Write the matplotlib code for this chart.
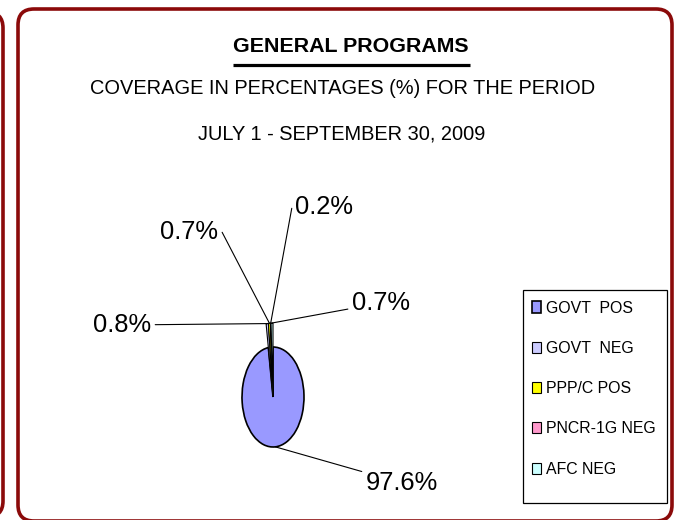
import matplotlib
matplotlib.use("Agg")
import matplotlib.pyplot as plt
from matplotlib.patches import FancyBboxPatch, Rectangle
from matplotlib import font_manager as fm
import numpy as np

# ---- data ----
categories = ["GOVT  POS", "GOVT  NEG", "PPP/C POS", "PNCR-1G NEG", "AFC NEG"]
values = [97.6, 0.8, 0.7, 0.2, 0.7]
colors = ["#9999FF", "#CCCCFF", "#FFFF00", "#FF99CC", "#CCFFFF"]
title = "GENERAL PROGRAMS"
subtitle1 = "COVERAGE IN PERCENTAGES (%) FOR THE PERIOD"
subtitle2 = "JULY 1 - SEPTEMBER 30, 2009"

names = {f.name for f in fm.fontManager.ttflist}
FONT = "Liberation Sans Narrow" if "Liberation Sans Narrow" in names else "Liberation Sans"

W, H = 685, 520
fig = plt.figure(figsize=(W / 100, H / 100), dpi=100)
fig.patch.set_facecolor("white")
renderer = fig.canvas.get_renderer()


def fit_size(s, target_w, weight="normal"):
    t = fig.text(0, 0, s, fontsize=10, family=FONT, weight=weight)
    w = t.get_window_extent(renderer).width
    t.remove()
    return 10 * target_w / w


# background / frame axes in pixel units (y down)
bg = fig.add_axes([0, 0, 1, 1])
bg.set_xlim(0, W)
bg.set_ylim(H, 0)
bg.axis("off")
frame_col = "#8B0A0A"
bg.add_patch(FancyBboxPatch((18, 9), 654, 512, boxstyle="round,pad=0,rounding_size=16",
                            fill=False, ec=frame_col, lw=2.6))
bg.add_patch(FancyBboxPatch((-300, 12), 303, 505, boxstyle="round,pad=0,rounding_size=16",
                            fill=False, ec=frame_col, lw=2.6))

# titles
fs_t = fit_size(title, 236, "bold")
bg.text(351, 47, title, fontsize=fs_t, family=FONT, weight="bold", ha="center", va="center")
bg.plot([233, 470], [64.5, 64.5], color="black", lw=2.3, solid_capstyle="butt")
fs_s = fit_size(subtitle1, 505)
bg.text(343, 89, subtitle1, fontsize=fs_s, family=FONT, ha="center", va="center")
bg.text(342, 134, subtitle2, fontsize=fs_s, family=FONT, ha="center", va="center")

# pie axes: unit circle -> ellipse of 31 x 50 px, centred at (273, 397) image px
cx, cy = 273, 397
rx, ry = 31.0, 50.0
ax = fig.add_axes([0, 0, 1, 1])
wedges, _ = ax.pie(values, colors=colors, startangle=90, counterclock=False,
                   wedgeprops=dict(edgecolor="black", linewidth=1.2))
ax.set_aspect("auto")
ax.set_xlim(-cx / rx, (W - cx) / rx)
ax.set_ylim(-(H - cy) / ry, cy / ry)
ax.axis("off")
for w in wedges[1:]:
    w.set_radius(1.48)
    w.set_linewidth(0.8)

# labels (text centres in image px) and optional elbow points of leader lines
label_pos = [(402, 483), (122, 325), (189, 232), (324, 207), (381, 303)]
elbows = [None, None, (222, 232), (292, 207), None]
fs_l = fit_size("97.6%", 72)
for w, v, (px, py), elb in zip(wedges, values, label_pos, elbows):
    th = np.deg2rad((w.theta1 + w.theta2) / 2)
    r = w.r
    tip = (r * np.cos(th), r * np.sin(th))
    if elb is None:
        cs = "arc3"
    else:
        tx, ty = ax.transData.transform(tip)
        ang = np.degrees(np.arctan2((H - elb[1]) - ty, elb[0] - tx))
        cs = f"angle,angleA=0,angleB={ang:.2f},rad=0"
    ax.annotate(f"{v:.1f}%", xy=tip,
                xytext=(px, H - py), textcoords="figure pixels",
                ha="center", va="center", fontsize=fs_l, family=FONT,
                arrowprops=dict(arrowstyle="-", color="black", lw=0.8,
                                shrinkA=1, shrinkB=0, connectionstyle=cs))

# legend (frame drawn separately)
bg.add_patch(Rectangle((523, 290), 144, 213, fill=False, ec="black", lw=0.9))
fs_leg = fit_size("PNCR-1G NEG", 110)
fs_px = fs_leg * 100 / 72
leg = ax.legend(wedges, categories, loc="upper left",
                bbox_to_anchor=(526 / W, 1 - 295 / H), bbox_transform=fig.transFigure,
                frameon=False,
                prop=dict(family=FONT, size=fs_leg),
                handlelength=9 / fs_px, handleheight=11 / fs_px, handletextpad=5 / fs_px,
                labelspacing=(43.5 - 1.15 * fs_px) / fs_px, borderpad=0.35,
                borderaxespad=0)

fig.savefig("out.png", dpi=100, facecolor="white")
